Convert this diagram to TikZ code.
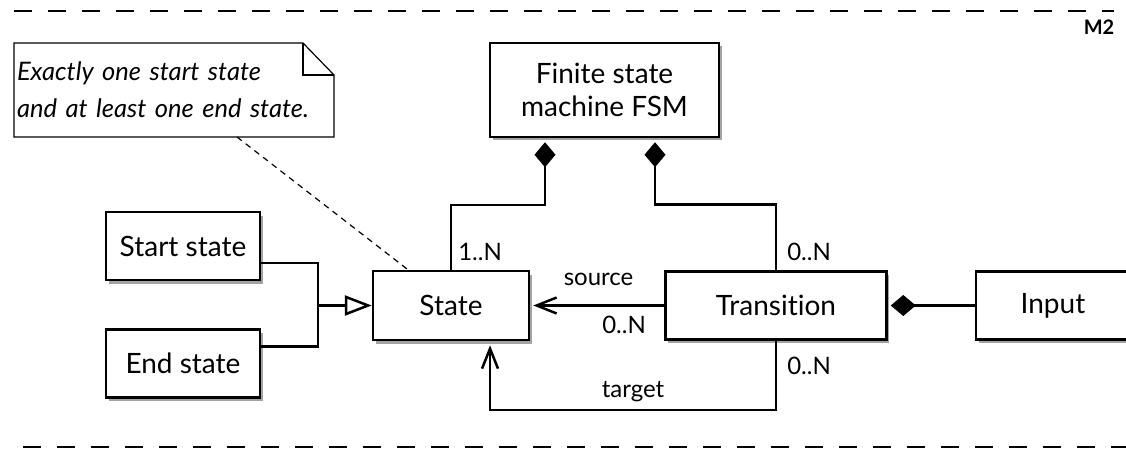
\documentclass[tikz,border=0pt]{standalone}
\usepackage{fontspec}
\setmainfont{Lato}[Ligatures=NoCommon]
\usetikzlibrary{positioning,arrows.meta,shadows}

\begin{document}
\begin{tikzpicture}[x=1pt,y=1pt,line width=2.5pt,node distance=134pt]
  \tikzstyle{classbox}=[draw,fill=white,minimum width=154pt,minimum height=68pt,
    font=\fontsize{28}{33}\selectfont,
    drop shadow={shadow xshift=2.5pt,shadow yshift=-3.5pt,opacity=0.6,fill=black!60}]
  \tikzstyle{mult}=[font=\fontsize{24}{27}\selectfont,inner sep=1pt]
  \tikzstyle{owns}=[{Diamond[length=25pt,width=21pt]}-,shorten <=4pt]
  \tikzstyle{refs}=[-{Straight Barb[length=20pt,width=16pt]},shorten >=3pt]
  \tikzstyle{isa}=[-{Triangle[open,length=27pt,width=20pt,fill=white]}]
  \tikzstyle{frame}=[line width=2.5pt,dash pattern=on 18pt off 16pt]
  \tikzstyle{notebox}=[minimum width=320pt,minimum height=94pt,text width=314pt,
    inner xsep=3pt,outer sep=0pt,align=left,font=\itshape\fontsize{25.5}{37}\selectfont]

  \useasboundingbox (0,0) rectangle (1126,-449);

  % level frame
  \draw[frame] (14,-11) -- (1114,-11);
  \draw[frame] (23,-447) -- (1126,-447);
  \node[font=\bfseries\fontsize{20}{24}\selectfont] (level) at (1099,-27.5) {M2};

  % classes
  \node[classbox,minimum width=156pt,minimum height=69pt] (state) at (451,-305.5) {State};
  \node[classbox,minimum width=221pt] (trans) [right=of state] {Transition};
  \node[classbox] (input) [right=87pt of trans] {Input};
  \node[classbox] (start) at (183,-246) {Start state};
  \node[classbox] (end) [below=47pt of start] {End state};
  \node[classbox,minimum width=229pt,minimum height=94pt,align=center] (fsm) at (604.5,-90)
    {Finite state\\machine FSM};

  % note
  \node[notebox] (note) at (174,-90) {Exactly one start state\\and at least one end state.};
  \draw[line width=1.2pt] (note.south west) -- (note.north west) -- ([xshift=-31pt]note.north east)
    -- ([yshift=-32pt]note.north east) -- (note.south east) -- cycle;
  \draw[line width=1.2pt] ([xshift=-31pt]note.north east) |- ([yshift=-32pt]note.north east);
  \draw[line width=1.2pt,dash pattern=on 6pt off 5pt] ([xshift=63pt]note.south) -- ([xshift=-43pt]state.north);

  % composition
  \draw[owns] ([xshift=-59.5pt]fsm.south) |- ([yshift=65pt]state.north) -- (state.north);
  \draw[owns] ([xshift=50.5pt]fsm.south) |- ([yshift=66pt]trans.north) -- (trans.north);
  \draw[owns,shorten <=3pt] (trans.east) -- (input.west);
  \node[mult,above right=7pt and 5pt of state.north] (statemult) {1..N};
  \node[mult,above right=7pt and 9pt of trans.north] (transmult) {0..N};

  % associations
  \draw[refs] (trans.west) -- node[mult,pos=0.49,above=18pt] (srclabel) {source}
    node[mult,pos=0.3,below=8pt] (srcmult) {0..N} (state.east);
  \draw[refs,shorten >=4pt] (trans.south) -- ++(0,-69)
    -| node[mult,pos=0.25,above=6pt] (tgtlabel) {target} ([xshift=39pt]state.south);
  \node[mult,below right=14pt and 9pt of trans.south] (tgtmult) {0..N};

  % generalization
  \draw ([yshift=-17pt]start.east) -| ([xshift=-54pt]state.west);
  \draw ([yshift=17pt]end.east) -| ([xshift=-54pt]state.west);
  \draw[isa] ([xshift=-54pt]state.west) -- (state.west);
\end{tikzpicture}
\end{document}
